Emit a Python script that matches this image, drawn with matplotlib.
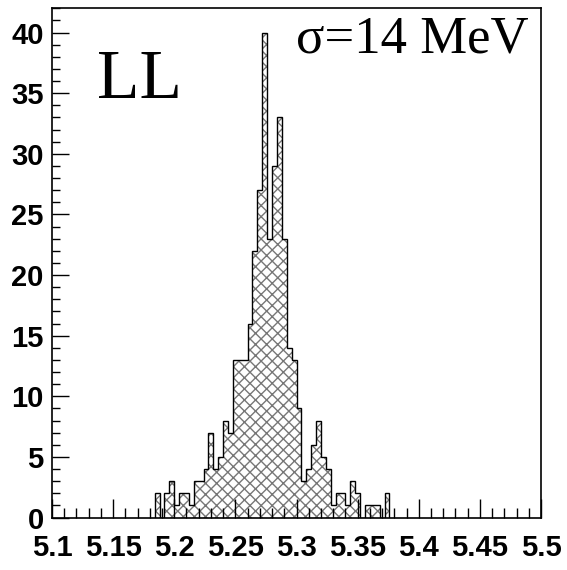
import matplotlib
matplotlib.use("Agg")
import matplotlib.pyplot as plt
import numpy as np
from matplotlib.ticker import MultipleLocator

# histogram content, 0.004 wide bins starting at 5.184 (all other bins empty)
bin_start = 5.184
bin_width = 0.004
counts = [2, 0, 2, 3, 1, 2, 2, 1, 3, 3,
          4, 7, 4, 5, 8, 7, 13, 13, 13, 16,
          22, 27, 40, 23, 29, 33, 23, 14, 13, 9,
          3, 4, 6, 8, 5, 4, 1, 2, 2, 1,
          3, 2, 0, 1, 1, 1, 0, 2]
x_range = (5.1, 5.5)
y_max = 42
x_ticklabels = ["5.1", "5.15", "5.2", "5.25", "5.3", "5.35", "5.4", "5.45", "5.5"]
label_text = "LL"
sigma_text = "\u03c3=14 MeV"

edges = bin_start + bin_width * np.arange(len(counts) + 1)

plt.rcParams['hatch.linewidth'] = 1.0
label_font = ['Liberation Sans Narrow', 'Liberation Sans', 'DejaVu Sans']

fig = plt.figure(figsize=(5.67, 5.70), dpi=100)
ax = fig.add_axes([0.0917, 0.0921, 0.8625, 0.8933])

# hatched fill then black outline on top
ax.stairs(counts, edges, fill=True, facecolor='white', edgecolor='#777777',
          hatch='xxx', linewidth=0)
ax.stairs(counts, edges, baseline=0, fill=False, color='black', linewidth=1.0)

ax.set_xlim(*x_range)
ax.set_ylim(0, y_max)

ax.xaxis.set_minor_locator(MultipleLocator(0.01))
ax.yaxis.set_major_locator(MultipleLocator(5))
ax.yaxis.set_minor_locator(MultipleLocator(1))
ax.set_xticks(np.linspace(x_range[0], x_range[1], len(x_ticklabels)))
ax.set_xticklabels(x_ticklabels)

ax.tick_params(axis='x', which='major', direction='in', length=14, width=1, pad=12)
ax.tick_params(axis='x', which='minor', direction='in', length=7, width=1)
ax.tick_params(axis='y', which='major', direction='in', length=12, width=1, pad=6)
ax.tick_params(axis='y', which='minor', direction='in', length=6, width=1)

for lab in ax.get_xticklabels() + ax.get_yticklabels():
    lab.set_fontfamily(label_font)
    lab.set_fontweight('bold')
    lab.set_fontsize(21)

for sp in ax.spines.values():
    sp.set_linewidth(1.2)

ax.text(0.092, 0.824, label_text, transform=ax.transAxes, fontsize=50,
        family='Liberation Serif', ha='left', va='baseline')
ax.text(0.499, 0.914, sigma_text, transform=ax.transAxes, fontsize=38,
        family='Liberation Serif', ha='left', va='baseline')

fig.savefig("out.png", dpi=100)
